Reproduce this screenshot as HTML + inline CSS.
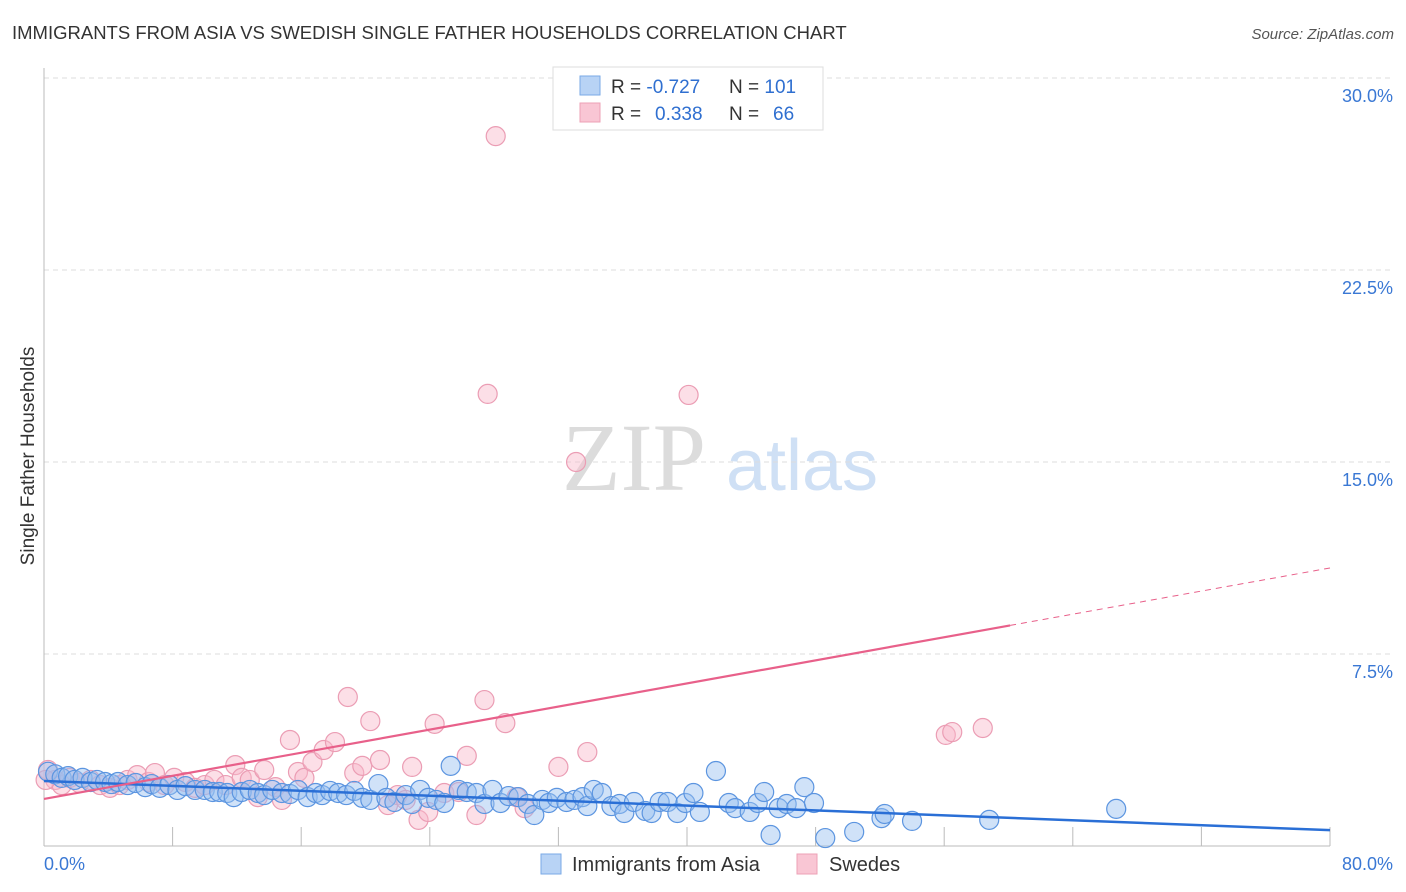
<!DOCTYPE html>
<html><head><meta charset="utf-8"><style>
body{margin:0;background:#fff;font-family:"Liberation Sans",sans-serif;}
svg{display:block}
</style></head><body>
<svg id="chart" width="1406" height="892" xmlns="http://www.w3.org/2000/svg">
<text x="12" y="39" font-size="18.5" fill="#333">IMMIGRANTS FROM ASIA VS SWEDISH SINGLE FATHER HOUSEHOLDS CORRELATION CHART</text>
<text x="1394" y="39" font-size="15" fill="#555" font-style="italic" text-anchor="end">Source: ZipAtlas.com</text>
<text x="34" y="456" font-size="19" fill="#333" text-anchor="middle" transform="rotate(-90 34 456)">Single Father Households</text>
<g>
<text x="634" y="490" font-size="96" fill="#dcdcdc" font-family="Liberation Serif,serif" text-anchor="middle">ZIP</text>
<text x="802" y="490" font-size="72" fill="#cfe0f5" text-anchor="middle">atlas</text>
</g>
<g id="grid"></g><g id="axes"></g><g id="marks"></g>
<g>
<rect x="553" y="67" width="270" height="63" fill="#fff" stroke="#ddd"/>
<rect x="580" y="76" width="20" height="19" fill="#b8d3f5" stroke="#7aaae6"/>
<rect x="580" y="103" width="20" height="19" fill="#f9c6d4" stroke="#eda0b6"/>
<text x="611" y="93" font-size="19" fill="#333">R = <tspan fill="#2f6fd0">-0.727</tspan></text>
<text x="729" y="93" font-size="19" fill="#333">N = <tspan fill="#2f6fd0">101</tspan></text>
<text x="611" y="120" font-size="19" fill="#333">R = <tspan fill="#2f6fd0" x="655">0.338</tspan></text>
<text x="729" y="120" font-size="19" fill="#333">N = <tspan fill="#2f6fd0" x="773">66</tspan></text>
</g>
<g>
<rect x="541" y="854" width="20" height="20" fill="#b8d3f5" stroke="#7aaae6"/>
<text x="572" y="871" font-size="20" fill="#333">Immigrants from Asia</text>
<rect x="797" y="854" width="20" height="20" fill="#f9c6d4" stroke="#eda0b6"/>
<text x="829" y="871" font-size="20" fill="#333">Swedes</text>
</g>
</svg>
<script>
const yTicks=[7.5,15,22.5,30];
const yTickLabels=["7.5%","15.0%","22.5%","30.0%"];
const xTicks=[0,8,16,24,32,40,48,56,64,72,80];
const xEndLabels=["0.0%","80.0%"];
const asiaX=[0.25,0.7,1.1,1.5,1.9,2.4,2.9,3.3,3.8,4.2,4.6,5.2,5.7,6.3,6.7,7.2,7.8,8.3,8.8,9.4,10.0,10.5,10.9,11.4,11.8,12.3,12.8,13.3,13.7,14.2,14.8,15.3,15.8,16.4,16.9,17.3,17.8,18.3,18.8,19.3,19.8,20.3,20.8,21.3,21.8,22.5,22.9,23.4,23.9,24.4,24.9,25.3,25.8,26.3,26.9,27.4,27.9,28.4,28.9,29.5,30.1,30.5,31.0,31.4,31.9,32.5,33.0,33.5,33.8,34.2,34.7,35.3,35.8,36.1,36.7,37.4,37.8,38.3,38.8,39.4,39.9,40.4,40.8,41.8,42.6,43.0,43.9,44.4,44.8,45.2,45.7,46.2,46.8,47.3,47.9,48.6,50.4,52.1,52.3,54.0,58.8,66.7];
const asiaY=[2.9,2.8,2.66,2.73,2.58,2.66,2.5,2.58,2.5,2.42,2.5,2.38,2.46,2.3,2.42,2.27,2.38,2.19,2.34,2.19,2.19,2.11,2.11,2.07,1.91,2.11,2.19,2.07,1.99,2.19,2.07,2.03,2.19,1.91,2.07,1.99,2.15,2.07,1.99,2.15,1.88,1.8,2.42,1.88,1.72,1.99,1.64,2.19,1.88,1.8,1.68,3.13,2.19,2.11,2.07,1.64,2.19,1.68,1.95,1.91,1.64,1.21,1.8,1.68,1.88,1.72,1.8,1.91,1.56,2.19,2.07,1.56,1.64,1.29,1.72,1.37,1.29,1.72,1.72,1.29,1.68,2.07,1.33,2.93,1.68,1.48,1.33,1.68,2.11,0.43,1.48,1.64,1.48,2.3,1.68,0.31,0.55,1.09,1.25,0.98,1.02,1.45];
const swedesX=[0.25,0.7,1.1,1.6,2.2,2.9,3.5,4.1,4.7,5.2,5.8,6.5,6.9,7.5,8.1,8.8,9.4,10.0,10.6,11.3,11.9,12.3,12.8,13.3,13.7,14.4,14.8,15.3,15.8,16.2,16.7,17.4,18.1,18.9,19.3,19.8,20.3,20.9,21.4,22.0,22.5,22.9,23.3,23.9,24.3,24.9,25.8,26.3,26.9,27.4,27.6,28.1,28.7,29.4,29.9,32.0,33.1,33.8,40.1,56.1,56.5,58.4,0.1];
const swedesY=[2.97,2.58,2.38,2.66,2.46,2.58,2.38,2.27,2.38,2.58,2.77,2.5,2.85,2.38,2.66,2.5,2.27,2.38,2.58,2.38,3.16,2.66,2.58,1.91,2.97,2.3,1.8,4.14,2.89,2.66,3.28,3.75,4.06,5.82,2.85,3.13,4.88,3.36,1.6,1.99,1.8,3.09,1.02,1.33,4.77,2.07,2.11,3.52,1.21,5.7,17.66,27.73,4.8,1.91,1.48,3.09,15.0,3.67,17.62,4.34,4.45,4.61,2.58];
const asiaTrend=[2.54,0.62];
const swedesTrend=[1.84,10.86];
const swedesSolidEnd=60.1;

const NS="http://www.w3.org/2000/svg";
const X0=44,X1=1330,Y0=846,PX=192/7.5;
function sx(v){return X0+(X1-X0)*v/80;}
function sy(v){return Y0-v*PX;}
function mk(tag,attrs,parent){const e=document.createElementNS(NS,tag);for(const k in attrs)e.setAttribute(k,attrs[k]);parent.appendChild(e);return e;}
const grid=document.getElementById('grid'),axes=document.getElementById('axes'),marks=document.getElementById('marks');
yTicks.forEach((t,i)=>{
  const l=mk('line',{x1:X0,x2:1394,y1:sy(t),y2:sy(t),stroke:'#ddd','stroke-dasharray':'5,4'},grid);
  
  
  const tx=mk('text',{x:1393,y:sy(t)+24,'font-size':18,fill:'#3a78d4','text-anchor':'end'},axes);
  tx.textContent=yTickLabels[i];
  
  
});
const ya=mk('line',{x1:X0,x2:X0,y1:68,y2:Y0,stroke:'#bbb'},axes);


const xa=mk('line',{x1:X0,x2:X1,y1:Y0,y2:Y0,stroke:'#bbb'},axes);


xTicks.forEach(t=>{if(t===0)return;
  const l=mk('line',{x1:sx(t),x2:sx(t),y1:Y0-19,y2:Y0,stroke:'#bbb'},axes);
  
  
});
[[0,'start',X0],[80,'end',1393]].forEach((d,i)=>{
  const tx=mk('text',{x:d[2],y:870,'font-size':18,fill:'#3a78d4','text-anchor':d[1]},axes);
  tx.textContent=xEndLabels[i];
  
  
});
function pts(xs,ys,fill,stroke,name){
  xs.forEach((x,i)=>{
    const c=mk('circle',{cx:sx(x),cy:sy(ys[i]),r:9.5,fill:fill,stroke:stroke,'stroke-width':1.2},marks);
    
    
  });
}
pts(swedesX,swedesY,'rgba(248,185,202,0.45)','#eb9db4','swedes-point');
pts(asiaX,asiaY,'rgba(150,190,240,0.45)','#5c95e0','asia-point');
const at=mk('line',{x1:sx(0),y1:sy(asiaTrend[0]),x2:sx(80),y2:sy(asiaTrend[1]),stroke:'#2a6fd6','stroke-width':2.5},marks);


const sAt=v=>swedesTrend[0]+(swedesTrend[1]-swedesTrend[0])*v/80;
const st=mk('line',{x1:sx(0),y1:sy(sAt(0)),x2:sx(swedesSolidEnd),y2:sy(sAt(swedesSolidEnd)),stroke:'#e8608a','stroke-width':2.2},marks);


const sd=mk('line',{x1:sx(swedesSolidEnd),y1:sy(sAt(swedesSolidEnd)),x2:sx(80),y2:sy(sAt(80)),stroke:'#e8608a','stroke-width':1,'stroke-dasharray':'6,5'},marks);


</script>
</body></html>
